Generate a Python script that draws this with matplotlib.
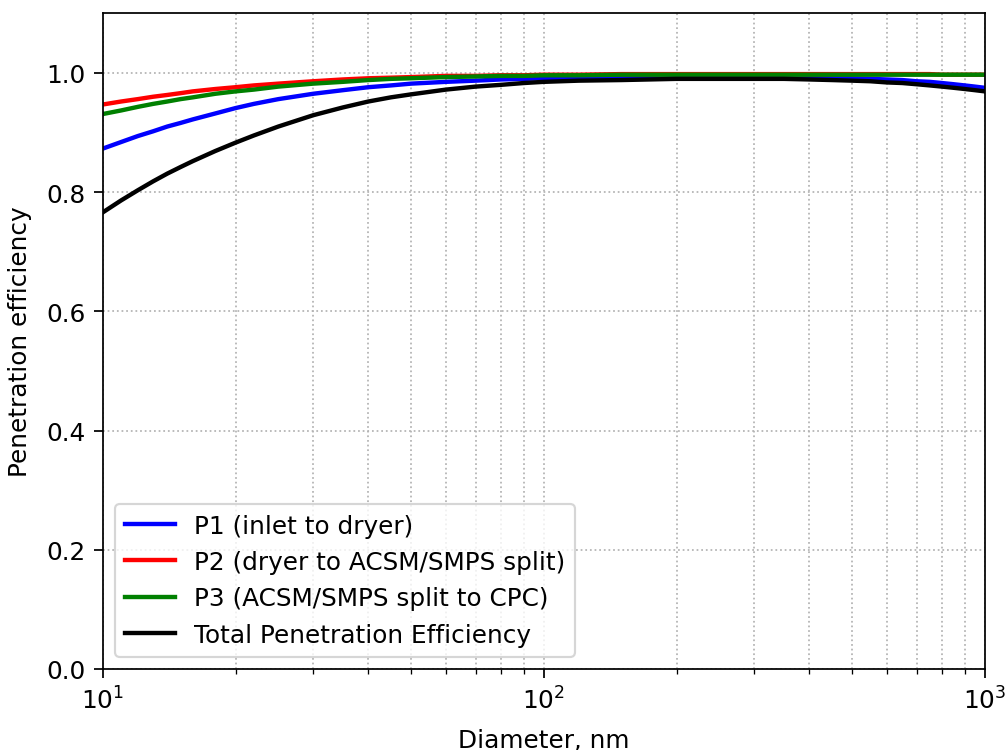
import matplotlib
matplotlib.use('Agg')
import matplotlib.pyplot as plt

diameter = [10, 11, 12, 13, 14, 15, 16, 18, 20, 22, 25, 30, 35, 40, 45, 50, 60, 70, 80, 90, 100,
            120, 150, 200, 250, 300, 350, 400, 450, 500, 550, 600, 650, 700, 750, 800, 850, 900, 950, 1000]
p1 = [0.873, 0.884, 0.894, 0.902, 0.910, 0.916, 0.922, 0.932, 0.941, 0.948, 0.956, 0.965, 0.971, 0.976,
      0.979, 0.982, 0.985, 0.987, 0.989, 0.990, 0.991, 0.992, 0.993, 0.994, 0.994, 0.994, 0.993, 0.993,
      0.992, 0.991, 0.990, 0.989, 0.988, 0.986, 0.985, 0.983, 0.981, 0.979, 0.977, 0.975]
p2 = [0.947, 0.952, 0.956, 0.960, 0.963, 0.966, 0.969, 0.973, 0.976, 0.979, 0.982, 0.986, 0.989, 0.991,
      0.992, 0.993, 0.995, 0.995, 0.996, 0.996, 0.997, 0.997, 0.998, 0.998, 0.998, 0.998, 0.998, 0.998,
      0.998, 0.998, 0.998, 0.998, 0.998, 0.998, 0.998, 0.997, 0.997, 0.997, 0.997, 0.997]
p3 = [0.931, 0.937, 0.943, 0.948, 0.952, 0.956, 0.959, 0.965, 0.969, 0.972, 0.977, 0.982, 0.985, 0.988,
      0.990, 0.991, 0.993, 0.994, 0.995, 0.995, 0.996, 0.996, 0.997, 0.997, 0.997, 0.997, 0.997, 0.997,
      0.997, 0.997, 0.997, 0.997, 0.997, 0.997, 0.997, 0.997, 0.997, 0.997, 0.997, 0.997]
total = [0.766, 0.786, 0.803, 0.818, 0.831, 0.842, 0.852, 0.869, 0.883, 0.895, 0.910, 0.929, 0.942, 0.952,
         0.959, 0.964, 0.972, 0.977, 0.980, 0.983, 0.985, 0.987, 0.988, 0.990, 0.990, 0.990, 0.990, 0.989,
         0.988, 0.987, 0.986, 0.984, 0.983, 0.981, 0.979, 0.977, 0.975, 0.973, 0.971, 0.969]

plt.rcParams['font.size'] = 11.3
plt.rcParams['xtick.major.size'] = 4
plt.rcParams['ytick.major.size'] = 4
plt.rcParams['xtick.minor.size'] = 2.3
plt.rcParams['xtick.major.pad'] = 4
plt.rcParams['ytick.major.pad'] = 4

fig, ax = plt.subplots(figsize=(6.4, 4.768), dpi=157.5)
fig.subplots_adjust(left=0.102, right=0.977, top=0.981, bottom=0.108)

ax.plot(diameter, p1, color='b', linewidth=2, label='P1 (inlet to dryer)')
ax.plot(diameter, p2, color='r', linewidth=2, label='P2 (dryer to ACSM/SMPS split)')
ax.plot(diameter, p3, color='g', linewidth=2, label='P3 (ACSM/SMPS split to CPC)')
ax.plot(diameter, total, color='k', linewidth=2, label='Total Penetration Efficiency')

ax.set_xscale('log')
ax.set_xlim(10, 1000)
ax.set_ylim(0, 1.1)
ax.set_xlabel('Diameter, nm', labelpad=6.5)
ax.set_ylabel('Penetration efficiency', labelpad=6.5)
ax.grid(True, which='both', linestyle=':', color='0.7')
ax.legend(loc='lower left')

plt.savefig('out.png', dpi=157.5)
plt.close()
